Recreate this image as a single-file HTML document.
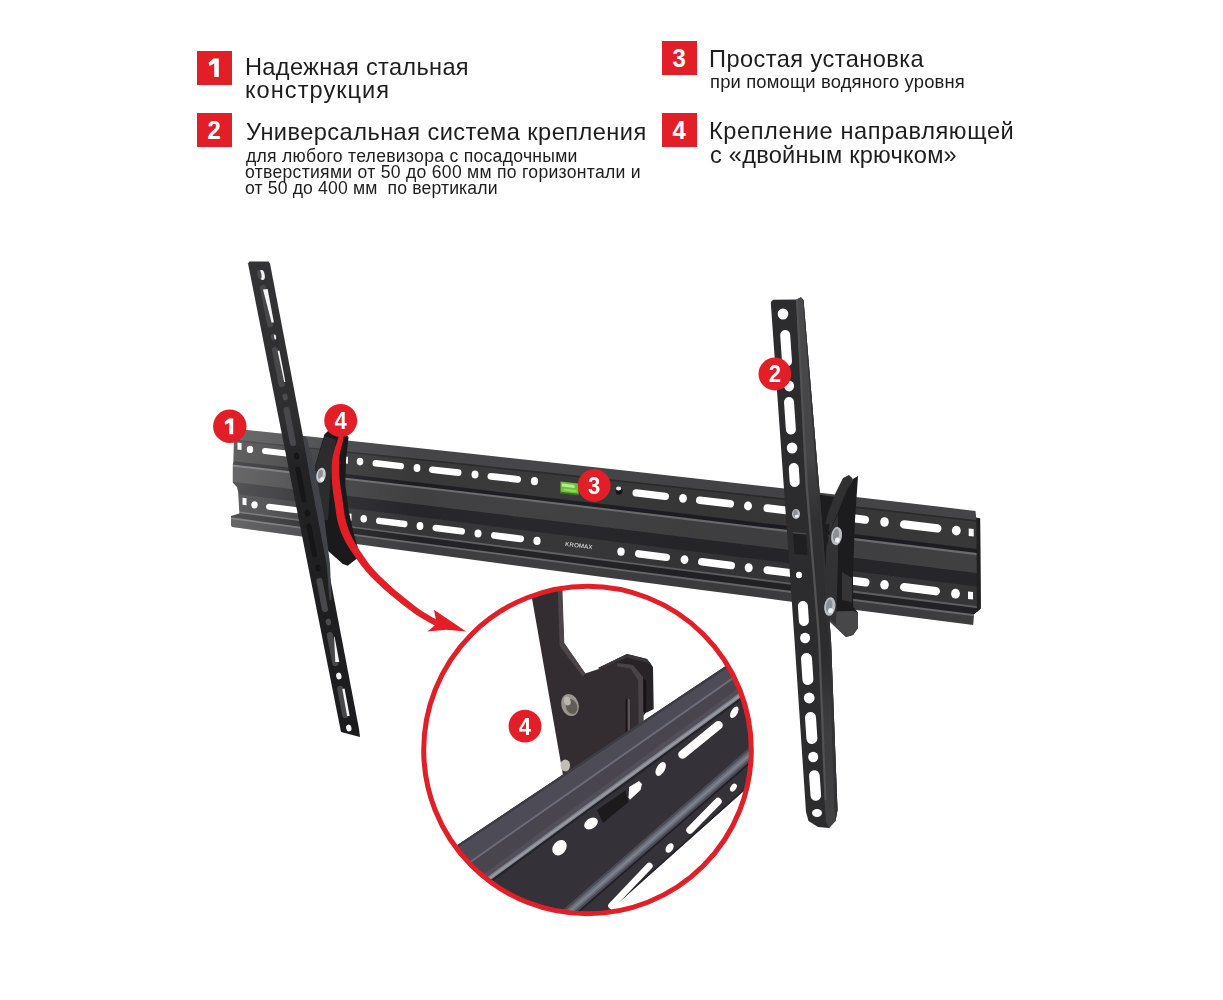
<!DOCTYPE html>
<html><head><meta charset="utf-8"><title>TV mount</title>
<style>
html,body{margin:0;padding:0;background:#fff;}
body{width:1223px;height:1000px;position:relative;overflow:hidden;font-family:"Liberation Sans",sans-serif;color:#1d1d1d;}
.sq{position:absolute;width:34.5px;height:34px;background:#e21f26;color:#fff;font-weight:bold;font-size:26px;line-height:34px;text-align:center;}
.sq span{display:inline-block;transform:scaleX(.92);}
.t{position:absolute;white-space:pre;line-height:1;will-change:transform;}
svg{position:absolute;left:0;top:0;}
</style></head><body>
<div class="sq" style="left:197px;top:50.5px"><svg width="34.5" height="34" style="position:absolute;left:0;top:0"><polygon points="16.6,7.5 21.8,7.5 21.8,26.1 17.2,26.1 17.2,12.5 12.5,14.9 11.6,11.7" fill="#fff"/></svg></div>
<div class="sq" style="left:197px;top:113px"><span>2</span></div>
<div class="sq" style="left:662px;top:41px"><span>3</span></div>
<div class="sq" style="left:662px;top:113px"><span>4</span></div>
<div class="t" style="left:244.9px;top:56px;font-size:23.6px;letter-spacing:.319px">Надежная стальная</div>
<div class="t" style="left:244.9px;top:78.9px;font-size:23.6px;letter-spacing:1.03px">конструкция</div>
<div class="t" style="left:245.9px;top:121.4px;font-size:23.6px;letter-spacing:.45px">Универсальная система крепления</div>
<div class="t" style="left:246px;top:147.8px;font-size:17.6px;letter-spacing:.276px">для любого телевизора с посадочными</div>
<div class="t" style="left:245.3px;top:163.8px;font-size:17.6px;letter-spacing:.277px">отверстиями от 50 до 600 мм по горизонтали и</div>
<div class="t" style="left:245.3px;top:180px;font-size:17.6px;letter-spacing:.15px">от 50 до 400 мм  по вертикали</div>
<div class="t" style="left:709.3px;top:48.4px;font-size:23.6px;letter-spacing:.444px">Простая установка</div>
<div class="t" style="left:710.3px;top:73px;font-size:18.4px;letter-spacing:.168px">при помощи водяного уровня</div>
<div class="t" style="left:709.3px;top:119.5px;font-size:23.6px;letter-spacing:.59px">Крепление направляющей</div>
<div class="t" style="left:710.3px;top:143.9px;font-size:23.6px;letter-spacing:.233px">с «двойным крючком»</div>
<svg width="1223" height="1000" viewBox="0 0 1223 1000">
<defs>
<clipPath id="cc"><circle cx="587.5" cy="750" r="164"/></clipPath>
<clipPath id="railclip"><polygon points="242.0,429.6 300.0,435.6 380.0,444.0 460.0,452.5 540.0,461.2 620.0,470.0 700.0,479.0 780.0,488.1 860.0,497.4 940.0,506.8 975.5,511.0 976.2,517.7 980.0,518.5 980.7,608.5 974.0,614.5 973.2,625.0 940.0,620.8 860.0,610.6 780.0,600.2 700.0,589.8 620.0,579.3 540.0,568.7 460.0,558.0 380.0,547.2 300.0,536.3 232.2,527.0 231.0,525.6 231.0,516.0 239.4,513.6 238.2,492.0 237.0,487.0 232.8,482.5 232.8,464.5 233.4,462.0 234.0,440.0"/></clipPath>
<filter id="soft" x="-5%" y="-5%" width="110%" height="110%"><feGaussianBlur stdDeviation="0.55"/></filter>
<linearGradient id="larm" x1="0" y1="262" x2="0" y2="737" gradientUnits="userSpaceOnUse"><stop offset="0" stop-color="#333335"/><stop offset=".34" stop-color="#2d2d2f"/><stop offset=".43" stop-color="#232325"/><stop offset=".7" stop-color="#1f1f21"/><stop offset="1" stop-color="#1c1c1e"/></linearGradient>
<linearGradient id="rside" x1="0" y1="298" x2="0" y2="828" gradientUnits="userSpaceOnUse"><stop offset="0" stop-color="#4a4a4c"/><stop offset=".3" stop-color="#444446"/><stop offset=".42" stop-color="#303032"/><stop offset=".68" stop-color="#2c2c2e"/><stop offset=".8" stop-color="#3c3c3e"/><stop offset="1" stop-color="#424244"/></linearGradient>
<linearGradient id="railshade" x1="225" y1="0" x2="995" y2="0" gradientUnits="userSpaceOnUse">
<stop offset="0" stop-color="#fff" stop-opacity=".22"/><stop offset=".06" stop-color="#fff" stop-opacity=".16"/><stop offset=".13" stop-color="#fff" stop-opacity=".07"/><stop offset=".25" stop-color="#fff" stop-opacity="0"/><stop offset=".6" stop-color="#000" stop-opacity=".04"/><stop offset="1" stop-color="#000" stop-opacity="0"/>
</linearGradient>
</defs>
<!-- wall rail -->
<g id="rail">
<g clip-path="url(#railclip)">
<g filter="url(#soft)">
<polygon points="220.0,424.4 232.0,425.6 300.0,432.6 380.0,440.9 460.0,449.4 540.0,458.0 620.0,466.8 700.0,475.7 780.0,484.8 860.0,494.0 940.0,503.4 981.0,508.2 995.0,509.9 995.0,631.2 981.0,629.4 940.0,624.2 860.0,614.0 780.0,603.6 700.0,593.1 620.0,582.6 540.0,571.9 460.0,561.2 380.0,550.3 300.0,539.3 232.0,530.0 220.0,528.3" fill="#454547" />
<polygon points="220.0,438.2 232.0,439.4 300.0,446.4 380.0,454.7 460.0,463.1 540.0,471.6 620.0,480.3 700.0,489.0 780.0,497.8 860.0,506.8 940.0,515.9 981.0,520.6 995.0,522.2 995.0,631.2 981.0,629.4 940.0,624.2 860.0,614.0 780.0,603.6 700.0,593.1 620.0,582.6 540.0,571.9 460.0,561.2 380.0,550.3 300.0,539.3 232.0,530.0 220.0,528.3" fill="#29292b" />
<polygon points="220.0,439.6 232.0,440.8 300.0,447.8 380.0,456.2 460.0,464.6 540.0,473.2 620.0,481.8 700.0,490.5 780.0,499.4 860.0,508.4 940.0,517.5 981.0,522.2 995.0,523.8 995.0,631.2 981.0,629.4 940.0,624.2 860.0,614.0 780.0,603.6 700.0,593.1 620.0,582.6 540.0,571.9 460.0,561.2 380.0,550.3 300.0,539.3 232.0,530.0 220.0,528.3" fill="#373739" />
<polygon points="220.0,459.7 232.0,461.1 300.0,468.8 380.0,478.1 460.0,487.3 540.0,496.7 620.0,506.1 700.0,515.6 780.0,525.1 860.0,534.7 940.0,544.4 981.0,549.4 995.0,551.1 995.0,631.2 981.0,629.4 940.0,624.2 860.0,614.0 780.0,603.6 700.0,593.1 620.0,582.6 540.0,571.9 460.0,561.2 380.0,550.3 300.0,539.3 232.0,530.0 220.0,528.3" fill="#1f1f21" />
<polygon points="220.0,463.1 232.0,464.5 300.0,472.4 380.0,481.7 460.0,491.0 540.0,500.5 620.0,509.9 700.0,519.5 780.0,529.1 860.0,538.7 940.0,548.4 981.0,553.4 995.0,555.1 995.0,631.2 981.0,629.4 940.0,624.2 860.0,614.0 780.0,603.6 700.0,593.1 620.0,582.6 540.0,571.9 460.0,561.2 380.0,550.3 300.0,539.3 232.0,530.0 220.0,528.3" fill="#6c6c6e" />
<polygon points="220.0,465.1 232.0,466.5 300.0,474.4 380.0,483.7 460.0,493.1 540.0,502.6 620.0,512.1 700.0,521.7 780.0,531.3 860.0,541.0 940.0,550.7 981.0,555.7 995.0,557.4 995.0,631.2 981.0,629.4 940.0,624.2 860.0,614.0 780.0,603.6 700.0,593.1 620.0,582.6 540.0,571.9 460.0,561.2 380.0,550.3 300.0,539.3 232.0,530.0 220.0,528.3" fill="#414143" />
<polygon points="220.0,480.3 232.0,481.7 300.0,490.0 380.0,499.7 460.0,509.5 540.0,519.3 620.0,529.1 700.0,538.9 780.0,548.7 860.0,558.5 940.0,568.4 981.0,573.4 995.0,575.1 995.0,631.2 981.0,629.4 940.0,624.2 860.0,614.0 780.0,603.6 700.0,593.1 620.0,582.6 540.0,571.9 460.0,561.2 380.0,550.3 300.0,539.3 232.0,530.0 220.0,528.3" fill="#272729" />
<polygon points="220.0,492.0 232.0,493.5 300.0,502.1 380.0,512.1 460.0,522.1 540.0,532.2 620.0,542.2 700.0,552.2 780.0,562.1 860.0,572.1 940.0,582.0 981.0,587.1 995.0,588.9 995.0,631.2 981.0,629.4 940.0,624.2 860.0,614.0 780.0,603.6 700.0,593.1 620.0,582.6 540.0,571.9 460.0,561.2 380.0,550.3 300.0,539.3 232.0,530.0 220.0,528.3" fill="#353537" />
<polygon points="220.0,508.9 232.0,510.5 300.0,519.4 380.0,529.9 460.0,540.3 540.0,550.6 620.0,561.0 700.0,571.2 780.0,581.4 860.0,591.6 940.0,601.6 981.0,606.8 995.0,608.6 995.0,631.2 981.0,629.4 940.0,624.2 860.0,614.0 780.0,603.6 700.0,593.1 620.0,582.6 540.0,571.9 460.0,561.2 380.0,550.3 300.0,539.3 232.0,530.0 220.0,528.3" fill="#606062" />
<polygon points="220.0,510.5 232.0,512.0 300.0,521.0 380.0,531.5 460.0,542.0 540.0,552.4 620.0,562.7 700.0,573.0 780.0,583.2 860.0,593.4 940.0,603.5 981.0,608.6 995.0,610.4 995.0,631.2 981.0,629.4 940.0,624.2 860.0,614.0 780.0,603.6 700.0,593.1 620.0,582.6 540.0,571.9 460.0,561.2 380.0,550.3 300.0,539.3 232.0,530.0 220.0,528.3" fill="#242426" />
<polygon points="220.0,516.0 232.0,517.6 300.0,526.8 380.0,537.4 460.0,548.0 540.0,558.5 620.0,568.9 700.0,579.3 780.0,589.6 860.0,599.8 940.0,610.0 981.0,615.1 995.0,616.9 995.0,631.2 981.0,629.4 940.0,624.2 860.0,614.0 780.0,603.6 700.0,593.1 620.0,582.6 540.0,571.9 460.0,561.2 380.0,550.3 300.0,539.3 232.0,530.0 220.0,528.3" fill="#68686a" />
<polygon points="220.0,517.7 232.0,519.3 300.0,528.5 380.0,539.2 460.0,549.8 540.0,560.3 620.0,570.8 700.0,581.2 780.0,591.5 860.0,601.7 940.0,611.9 981.0,617.1 995.0,618.9 995.0,631.2 981.0,629.4 940.0,624.2 860.0,614.0 780.0,603.6 700.0,593.1 620.0,582.6 540.0,571.9 460.0,561.2 380.0,550.3 300.0,539.3 232.0,530.0 220.0,528.3" fill="#3e3e40" />
</g>
<rect x="225" y="420" width="770" height="220" fill="url(#railshade)"/>
</g>
<polygon points="237.5,442.6 241.5,443.0 241.5,450.0 237.5,449.6" fill="#fff"/>
<ellipse cx="250.0" cy="449.4" rx="3.2" ry="3.6" fill="#fff"/>
<line x1="265.0" y1="451.1" x2="293.0" y2="454.2" stroke="#fff" stroke-width="6.0" stroke-linecap="round"/>
<polygon points="344.0,456.3 348.0,456.8 348.0,463.8 344.0,463.3" fill="#fff"/>
<ellipse cx="360.0" cy="461.6" rx="3.3" ry="3.8" fill="#fff"/>
<line x1="375.7" y1="463.3" x2="400.8" y2="466.1" stroke="#fff" stroke-width="6.4" stroke-linecap="round"/>
<ellipse cx="417.0" cy="468.0" rx="3.4" ry="3.9" fill="#fff"/>
<line x1="432.3" y1="469.7" x2="458.2" y2="472.6" stroke="#fff" stroke-width="6.6" stroke-linecap="round"/>
<ellipse cx="475.0" cy="474.5" rx="3.5" ry="4.0" fill="#fff"/>
<line x1="490.9" y1="476.3" x2="517.6" y2="479.3" stroke="#fff" stroke-width="6.8" stroke-linecap="round"/>
<ellipse cx="534.5" cy="481.2" rx="3.6" ry="4.1" fill="#fff"/>
<ellipse cx="619.0" cy="490.9" rx="3.4" ry="3.6" fill="#141416"/>
<ellipse cx="618.6" cy="488.4" rx="2.6" ry="2.0" fill="#ececec"/>
<line x1="636.2" y1="492.9" x2="665.3" y2="496.3" stroke="#fff" stroke-width="7.4" stroke-linecap="round"/>
<ellipse cx="683.0" cy="498.3" rx="3.9" ry="4.4" fill="#fff"/>
<line x1="699.8" y1="500.3" x2="730.2" y2="503.8" stroke="#fff" stroke-width="7.6" stroke-linecap="round"/>
<ellipse cx="748.0" cy="505.9" rx="4.0" ry="4.5" fill="#fff"/>
<line x1="767.4" y1="508.2" x2="796.1" y2="511.6" stroke="#fff" stroke-width="7.8" stroke-linecap="round"/>
<line x1="849.1" y1="517.8" x2="864.9" y2="519.7" stroke="#fff" stroke-width="8.2" stroke-linecap="round"/>
<ellipse cx="884.5" cy="522.0" rx="4.3" ry="4.8" fill="#fff"/>
<line x1="904.2" y1="524.4" x2="937.3" y2="528.4" stroke="#fff" stroke-width="8.4" stroke-linecap="round"/>
<ellipse cx="956.3" cy="530.6" rx="4.4" ry="4.9" fill="#fff"/>
<polygon points="968.7,528.4 973.7,529.0 973.7,536.5 968.7,535.9" fill="#fff"/>
<polygon points="242.5,497.8 246.5,498.3 246.5,505.3 242.5,504.8" fill="#fff"/>
<ellipse cx="254.5" cy="504.8" rx="3.2" ry="3.6" fill="#fff"/>
<line x1="269.0" y1="506.7" x2="297.0" y2="510.3" stroke="#fff" stroke-width="6.0" stroke-linecap="round"/>
<polygon points="347.5,513.2 351.5,513.7 351.5,520.7 347.5,520.2" fill="#fff"/>
<ellipse cx="363.7" cy="518.8" rx="3.3" ry="3.8" fill="#fff"/>
<line x1="379.2" y1="520.8" x2="404.3" y2="524.0" stroke="#fff" stroke-width="6.4" stroke-linecap="round"/>
<ellipse cx="420.0" cy="526.0" rx="3.4" ry="3.9" fill="#fff"/>
<line x1="435.8" y1="528.0" x2="461.7" y2="531.3" stroke="#fff" stroke-width="6.6" stroke-linecap="round"/>
<ellipse cx="478.0" cy="533.4" rx="3.5" ry="4.0" fill="#fff"/>
<line x1="494.4" y1="535.5" x2="520.6" y2="538.8" stroke="#fff" stroke-width="6.8" stroke-linecap="round"/>
<ellipse cx="537.0" cy="540.9" rx="3.6" ry="4.1" fill="#fff"/>
<ellipse cx="621.0" cy="551.6" rx="3.7" ry="4.2" fill="#fff"/>
<line x1="638.7" y1="553.8" x2="666.3" y2="557.3" stroke="#fff" stroke-width="7.4" stroke-linecap="round"/>
<ellipse cx="684.5" cy="559.6" rx="3.9" ry="4.4" fill="#fff"/>
<line x1="701.8" y1="561.8" x2="731.2" y2="565.5" stroke="#fff" stroke-width="7.6" stroke-linecap="round"/>
<ellipse cx="748.7" cy="567.7" rx="4.0" ry="4.5" fill="#fff"/>
<line x1="767.4" y1="570.1" x2="796.1" y2="573.7" stroke="#fff" stroke-width="7.8" stroke-linecap="round"/>
<line x1="849.1" y1="580.3" x2="865.4" y2="582.4" stroke="#fff" stroke-width="8.2" stroke-linecap="round"/>
<ellipse cx="884.5" cy="584.8" rx="4.3" ry="4.8" fill="#fff"/>
<line x1="904.2" y1="587.2" x2="935.8" y2="591.2" stroke="#fff" stroke-width="8.4" stroke-linecap="round"/>
<ellipse cx="955.5" cy="593.7" rx="4.4" ry="4.9" fill="#fff"/>
<polygon points="968.0,591.5 973.0,592.1 973.0,599.6 968.0,599.0" fill="#fff"/>
<polygon points="560.5,481.6 578.5,483.5 578.5,494.9 560.5,493.0" fill="#6cc23a" />
<polygon points="562.0,483.6 574.5,485.1 574.5,488.1 562.0,486.6" fill="#b4ee8c" />
<polygon points="563.5,488.6 576.5,490.3 576.5,492.3 563.5,490.6" fill="#8fdc5c" />
<polygon points="560.5,491.8 578.5,493.7 578.5,495.5 560.5,493.6" fill="#3a6f26" />
<text x="565" y="546.0" font-size="6" fill="#f4f4f4" font-family="Liberation Sans" transform="rotate(6.5 565 546.0)" letter-spacing="0.3">KROMAX</text>
</g>
<polygon points="324.4,434.4 329.0,430.0 344.0,431.5 348.5,437.0 346.0,460.0 345.3,484.0 348.5,509.7 353.3,532.0 358.0,548.0 357.0,558.5 347.7,565.7 342.9,564.0 328.4,551.3 322.0,532.0 312.0,480.0 315.6,464.0" fill="#1a1a1c" />
<polygon points="325.0,436.0 336.0,440.0 331.0,475.0 328.0,520.0 320.0,520.0 313.0,478.0 316.5,462.0" fill="#2c2c2f" />
<polygon points="248.0,263.5 249.5,261.5 268.5,261.5 270.0,263.5 359.0,729.0 360.0,737.0 341.0,732.0" fill="url(#larm)" />
<polygon points="303.0,436.0 307.0,438.0 316.0,473.0 324.0,516.0 330.0,564.0 331.5,600.0 329.5,600.0 326.6,564.0 317.4,516.0 309.2,473.0" fill="#40444a" />
<ellipse cx="262.0" cy="275.0" rx="2.7" ry="5.0" fill="#f4f4f4" transform="rotate(-11.0 262.0 275.0)"/>
<ellipse cx="259.4" cy="274.5" rx="2.0" ry="4.6" fill="#4a4a4e" transform="rotate(-11.0 259.4 274.5)"/>
<line x1="263.1" y1="288.0" x2="270.0" y2="324.0" stroke="#48484c" stroke-width="6.2" stroke-linecap="round"/>
<ellipse cx="273.5" cy="337.0" rx="2.7" ry="3.4" fill="#4c4c50" transform="rotate(-11.0 273.5 337.0)"/>
<line x1="275.0" y1="350.0" x2="281.6" y2="384.0" stroke="#48484c" stroke-width="6.2" stroke-linecap="round"/>
<ellipse cx="285.1" cy="397.0" rx="2.7" ry="3.4" fill="#4c4c50" transform="rotate(-11.0 285.1 397.0)"/>
<line x1="286.6" y1="410.0" x2="292.9" y2="443.0" stroke="#48484c" stroke-width="6.2" stroke-linecap="round"/>
<ellipse cx="296.4" cy="456.0" rx="2.7" ry="3.4" fill="#151517" transform="rotate(-11.0 296.4 456.0)"/>
<line x1="297.9" y1="469.0" x2="303.9" y2="500.0" stroke="#161618" stroke-width="5.0" stroke-linecap="round"/>
<ellipse cx="307.4" cy="513.0" rx="2.7" ry="3.4" fill="#151517" transform="rotate(-11.0 307.4 513.0)"/>
<line x1="308.9" y1="526.0" x2="314.5" y2="555.0" stroke="#161618" stroke-width="5.0" stroke-linecap="round"/>
<ellipse cx="318.0" cy="568.0" rx="2.7" ry="3.4" fill="#151517" transform="rotate(-11.0 318.0 568.0)"/>
<line x1="319.5" y1="581.0" x2="324.9" y2="609.0" stroke="#48484c" stroke-width="6.2" stroke-linecap="round"/>
<ellipse cx="328.4" cy="622.0" rx="2.7" ry="3.4" fill="#4c4c50" transform="rotate(-11.0 328.4 622.0)"/>
<line x1="329.9" y1="635.0" x2="335.3" y2="663.0" stroke="#48484c" stroke-width="6.2" stroke-linecap="round"/>
<ellipse cx="338.8" cy="676.0" rx="2.7" ry="3.4" fill="#f4f4f4" transform="rotate(-11.0 338.8 676.0)"/>
<line x1="340.3" y1="689.0" x2="345.3" y2="715.0" stroke="#48484c" stroke-width="6.2" stroke-linecap="round"/>
<ellipse cx="348.8" cy="728.0" rx="2.7" ry="3.4" fill="#f4f4f4" transform="rotate(-11.0 348.8 728.0)"/>
<polygon points="263.0,289.5 267.6,289.0 273.9,322.5 271.6,322.5" fill="#f6f6f6" />
<polygon points="277.6,351.0 279.4,350.5 285.4,382.0 284.2,382.0" fill="#f6f6f6" />
<ellipse cx="275.1" cy="337.0" rx="1.0" ry="2.6" fill="#f0f0f0" transform="rotate(-11.0 275.1 337.0)"/>
<polygon points="334.1,637.0 334.5,636.5 339.3,662.0 335.3,662.0" fill="#f6f6f6" />
<polygon points="342.3,689.0 344.5,688.5 349.7,716.0 347.1,716.0" fill="#f6f6f6" />
<ellipse cx="321.0" cy="475.3" rx="4.7" ry="7.6" fill="#c9cccf" transform="rotate(10.0 321.0 475.3)"/>
<ellipse cx="320.5" cy="474.3" rx="2.3" ry="4.6" fill="#8d9094" transform="rotate(10.0 320.5 474.3)"/>
<ellipse cx="322.0" cy="479.3" rx="2.0" ry="2.2" fill="#eef0f2"/>
<polygon points="814.0,494.0 840.0,497.5 830.0,520.0 826.0,560.0 826.0,605.0 820.0,604.0 818.0,560.0" fill="#1d1d1f" />
<polygon points="976.3,517.6 980.2,518.6 980.8,608.4 976.9,612.0 976.7,560.0" fill="#202022" />
<polygon points="849.0,475.0 843.0,478.0 836.0,492.0 829.0,510.0 825.0,524.0 835.0,524.0 846.0,494.0 853.0,479.0" fill="#303033" />
<polygon points="858.0,476.0 853.0,479.0 846.0,492.0 838.0,512.0 831.0,528.0 826.0,545.0 824.0,575.0 824.0,603.0 826.0,618.0 846.0,637.0 853.0,635.0 858.0,628.0 858.0,612.5 853.2,607.0 853.0,575.0 855.0,520.0" fill="#1c1c1e" />
<polygon points="826.5,611.5 853.5,611.0 858.0,612.5 858.0,628.0 853.0,635.0 846.0,637.0 826.0,618.0" fill="#47474a" />
<polygon points="838.0,514.0 831.0,529.0 826.5,546.0 825.0,575.0 825.0,603.0 827.0,617.0 836.0,625.0 838.0,560.0" fill="#323235" />
<polygon points="842.0,572.0 852.0,578.0 852.0,602.0 842.0,600.0" fill="#343437" />
<polygon points="770.8,303.0 771.5,301.0 773.5,299.8 796.5,299.6 801.0,297.3 803.5,300.0 819.0,485.0 831.0,640.0 837.5,810.0 835.5,821.0 829.0,828.0 818.0,827.0 808.5,821.0 806.0,812.0 794.5,640.0 783.7,485.0" fill="#2c2c2f" />
<polygon points="796.0,299.8 801.0,297.3 803.5,300.0 819.0,485.0 831.0,640.0 837.5,810.0 835.5,821.0 829.0,828.0 826.0,822.0 824.5,800.0 818.0,640.0 805.5,485.0" fill="url(#rside)" />
<polygon points="796.0,299.8 798.0,299.4 807.8,485.0 820.3,640.0 826.5,800.0 824.5,800.0 818.0,640.0 805.5,485.0" fill="#525254" />
<polygon points="802.7,300.0 803.5,300.0 819.0,485.0 831.0,640.0 837.5,810.0 835.5,821.0 834.5,810.0 829.0,640.0 817.2,485.0" fill="#333335" />
<ellipse cx="783.0" cy="314.0" rx="5.3" ry="5.6" fill="#fff"/>
<line x1="785.2" y1="335.0" x2="787.0" y2="361.5" stroke="#fff" stroke-width="10.0" stroke-linecap="round"/>
<ellipse cx="789.1" cy="386.0" rx="5.0" ry="5.4" fill="#fff"/>
<line x1="789.0" y1="402.0" x2="790.9" y2="429.5" stroke="#fff" stroke-width="10.0" stroke-linecap="round"/>
<ellipse cx="792.1" cy="448.0" rx="5.3" ry="5.5" fill="#fff"/>
<line x1="793.8" y1="468.0" x2="794.7" y2="482.0" stroke="#fff" stroke-width="10.0" stroke-linecap="round"/>
<polygon points="793.0,532.0 806.0,533.0 807.5,555.0 794.5,554.0" fill="#1f1f21" />
<polygon points="793.0,532.0 806.0,533.0 806.1,534.6 793.1,533.6" fill="#4a4a4d" />
<ellipse cx="799.0" cy="575.0" rx="3.0" ry="3.2" fill="#fff"/>
<line x1="802.9" y1="606.0" x2="803.9" y2="621.0" stroke="#fff" stroke-width="10.0" stroke-linecap="round"/>
<ellipse cx="805.1" cy="638.0" rx="5.0" ry="5.2" fill="#fff"/>
<line x1="806.5" y1="658.5" x2="807.9" y2="679.5" stroke="#fff" stroke-width="11.0" stroke-linecap="round"/>
<ellipse cx="809.2" cy="698.0" rx="5.4" ry="5.4" fill="#fff"/>
<line x1="810.5" y1="717.5" x2="811.9" y2="738.5" stroke="#fff" stroke-width="11.0" stroke-linecap="round"/>
<ellipse cx="813.2" cy="757.0" rx="5.0" ry="5.2" fill="#fff"/>
<line x1="814.4" y1="775.5" x2="815.8" y2="795.5" stroke="#fff" stroke-width="10.6" stroke-linecap="round"/>
<ellipse cx="817.0" cy="813.0" rx="5.0" ry="4.0" fill="#fff"/>
<ellipse cx="796.0" cy="514.0" rx="4.0" ry="5.0" fill="#b9bdc2"/><ellipse cx="795.4" cy="513.2" rx="2.2" ry="3.5" fill="#8b9096"/><ellipse cx="796.8" cy="516.2" rx="1.8" ry="1.4" fill="#eef1f4"/>
<ellipse cx="836.6" cy="536.0" rx="5.4" ry="9.2" fill="#b9bdc2" transform="rotate(8.0 836.6 536.0)"/><ellipse cx="836.0" cy="535.2" rx="3.0" ry="6.4" fill="#8b9096" transform="rotate(8.0 836.0 535.2)"/><ellipse cx="837.4" cy="540.1" rx="2.4" ry="2.6" fill="#eef1f4" transform="rotate(8.0 837.4 540.1)"/>
<ellipse cx="829.8" cy="606.5" rx="5.6" ry="9.4" fill="#b9bdc2" transform="rotate(8.0 829.8 606.5)"/><ellipse cx="829.2" cy="605.7" rx="3.1" ry="6.6" fill="#8b9096" transform="rotate(8.0 829.2 605.7)"/><ellipse cx="830.6" cy="610.7" rx="2.5" ry="2.6" fill="#eef1f4" transform="rotate(8.0 830.6 610.7)"/>
<polygon points="338.6,437.3 337.9,439.1 337.0,441.7 336.0,444.8 334.9,448.1 334.0,451.4 333.2,454.4 332.6,457.2 332.2,459.8 332.0,462.4 331.8,465.0 331.7,467.5 331.7,470.0 331.6,472.6 331.7,475.1 331.7,477.7 331.9,480.3 332.0,482.8 332.2,485.4 332.5,487.9 332.8,490.4 333.1,492.8 333.5,495.3 333.9,497.9 334.3,500.6 334.8,503.6 335.2,507.0 335.7,510.5 336.2,514.1 336.8,517.6 337.5,520.9 338.3,524.0 339.2,526.9 340.1,529.7 341.1,532.4 342.2,535.0 343.4,537.6 344.6,540.1 345.8,542.4 347.1,544.7 348.5,547.0 350.1,549.4 351.8,552.1 353.9,555.1 356.1,558.3 358.5,561.7 361.1,565.3 363.9,568.8 366.8,572.3 369.9,575.7 373.2,579.1 376.7,582.5 380.3,585.8 384.0,589.2 387.8,592.5 391.9,596.0 396.5,599.7 401.1,603.4 405.6,606.9 409.7,610.0 413.1,612.5 415.7,614.4 417.7,615.8 419.2,616.8 420.6,617.6 421.9,618.3 423.4,619.2 425.3,620.3 427.5,621.5 429.6,622.7 431.6,623.8 433.3,624.7 434.5,625.4 437.5,620.2 436.3,619.5 434.6,618.5 432.6,617.4 430.5,616.2 428.5,615.0 426.6,613.8 425.0,612.9 423.7,612.1 422.5,611.4 421.2,610.6 419.4,609.3 416.9,607.5 413.6,604.9 409.6,601.8 405.2,598.3 400.6,594.6 396.2,590.9 392.2,587.5 388.5,584.1 384.9,580.8 381.5,577.5 378.2,574.2 375.1,570.9 372.2,567.7 369.5,564.4 366.9,560.9 364.5,557.5 362.2,554.1 360.1,550.9 358.2,547.9 356.5,545.3 355.0,542.9 353.8,540.8 352.7,538.7 351.7,536.6 350.6,534.4 349.6,531.9 348.6,529.5 347.8,527.1 346.9,524.5 346.2,521.9 345.5,519.1 344.8,516.1 344.3,512.8 343.8,509.4 343.3,505.9 342.9,502.5 342.5,499.4 342.0,496.6 341.6,494.0 341.2,491.6 340.8,489.2 340.5,486.9 340.2,484.6 339.9,482.2 339.7,479.7 339.5,477.3 339.3,474.9 339.2,472.4 339.1,470.0 339.1,467.6 339.1,465.2 339.2,462.8 339.2,460.5 339.4,458.1 339.6,455.6 340.1,452.8 340.7,449.6 341.5,446.4 342.3,443.3 343.0,440.6 343.4,438.7" fill="#e21f26" /><ellipse cx="341.0" cy="438.0" rx="2.5" ry="2.5" fill="#e21f26"/><polygon points="466.2,631.5 433.9,609.8 436.2,621.0 434.6,625.4 427.4,631.5 446.0,629.7" fill="#e21f26" />
<circle cx="587.5" cy="750" r="164" fill="#fff"/>
<g clip-path="url(#cc)">
<polygon points="598.0,668.0 627.0,654.0 647.0,659.0 653.0,667.0 653.7,709.0 647.0,712.5 640.0,712.0 640.0,680.0" fill="#272326" />
<polygon points="598.0,668.0 627.0,654.0 647.0,659.0 652.0,665.5 648.0,663.0 627.0,657.5 601.0,669.5" fill="#3b3639" />
<polygon points="527.9,575.0 561.0,575.0 562.0,595.0 564.0,643.0 585.0,673.5 617.0,663.0 633.0,665.0 643.0,677.0 643.5,735.0 600.0,772.0 566.5,795.0" fill="#332d31" />
<polygon points="557.3,575.0 562.3,575.0 562.6,595.0 564.3,643.0 585.3,673.3 583.0,676.8 559.6,646.0" fill="#4b4549" />
<polygon points="633.0,665.0 643.0,677.0 643.5,722.0 638.6,726.0 638.2,680.5 630.5,668.5 617.0,666.2 617.0,663.0" fill="#494347" />
<polygon points="643.5,679.0 646.2,681.0 646.2,712.0 643.5,716.0" fill="#151214" />
<polygon points="625.6,700.0 627.6,698.0 627.8,745.0 625.6,745.0" fill="#18141a" />
<polygon points="627.6,698.0 630.0,700.0 630.0,745.0 627.8,745.0" fill="#5a5458" />
<ellipse cx="570.0" cy="705.0" rx="8.6" ry="11.2" fill="#97958d" transform="rotate(-18.0 570.0 705.0)"/><ellipse cx="571.5" cy="706.5" rx="5.6" ry="7.6" fill="#5f5c58" transform="rotate(-18.0 571.5 706.5)"/><ellipse cx="567.3" cy="701.0" rx="3.2" ry="4.6" fill="#b9b7ae" transform="rotate(-18.0 567.3 701.0)"/>
<ellipse cx="565.3" cy="765.5" rx="4.8" ry="6.0" fill="#bfbdb4"/>
<polygon points="415.0,873.4 765.0,639.9 765.0,771.8 415.0,1084.3" fill="#353138" />
<polygon points="415.0,873.4 765.0,639.9 765.0,677.5 415.0,933.0" fill="#4d4b56" />
<polygon points="415.0,873.4 765.0,639.9 765.0,642.5 415.0,876.0" fill="#3d3b45" />
<polygon points="415.0,899.5 765.0,654.5 765.0,657.1 415.0,902.1" fill="#6b6b7a" />
<polygon points="415.0,902.1 765.0,657.1 765.0,677.5 415.0,933.0" fill="#48454f" />
<polygon points="415.0,924.0 765.0,668.5 765.0,677.5 415.0,933.0" fill="#524f5a" />
<polygon points="415.0,929.8 765.0,674.2 765.0,679.9 415.0,935.4" fill="#7f818a" />
<polygon points="415.0,931.6 765.0,676.1 765.0,678.2 415.0,933.8" fill="#9a9ca4" />
<polygon points="415.0,935.4 765.0,679.9 765.0,682.5 415.0,938.0" fill="#25232a" />
<polygon points="415.0,1038.5 765.0,734.0 765.0,748.5 415.0,1053.0" fill="#4c4c58" />
<polygon points="415.0,1041.5 765.0,737.0 765.0,745.5 415.0,1050.0" fill="#686b77" />
<polygon points="415.0,1044.2 765.0,739.7 765.0,743.1 415.0,1047.6" fill="#7c808b" />
<polygon points="415.0,1053.0 765.0,748.5 765.0,751.0 415.0,1055.5" fill="#221f26" />
<polygon points="415.0,1055.5 765.0,751.0 765.0,771.8 415.0,1084.3" fill="#363239" />
<polygon points="415.0,1082.3 765.0,769.8 765.0,771.8 415.0,1084.3" fill="#26232a" />
<ellipse cx="559.5" cy="847.7" rx="6.4" ry="8.4" fill="#fff" transform="rotate(38.0 559.5 847.7)"/>
<polygon points="597.0,810.0 625.5,790.5 628.5,802.0 603.0,823.0" fill="#1d1a1e" />
<ellipse cx="591.0" cy="823.5" rx="7.5" ry="5.2" fill="#fff" transform="rotate(-35.0 591.0 823.5)"/>
<polygon points="629.2,787.0 639.0,781.0 642.0,784.0 640.5,790.0 630.0,799.7 628.5,797.5" fill="#fff" />
<ellipse cx="660.7" cy="769.0" rx="4.2" ry="7.6" fill="#fff" transform="rotate(30.0 660.7 769.0)"/>
<line x1="682.5" y1="754.5" x2="718.5" y2="725.2" stroke="#fff" stroke-width="8.6" stroke-linecap="round"/>
<ellipse cx="734.3" cy="712.3" rx="3.3" ry="6.3" fill="#fff" transform="rotate(30.0 734.3 712.3)"/>
<line x1="611.5" y1="905.8" x2="649.3" y2="866.0" stroke="#fff" stroke-width="6.7" stroke-linecap="round"/>
<ellipse cx="669.6" cy="848.0" rx="3.4" ry="5.2" fill="#fff" transform="rotate(35.0 669.6 848.0)"/>
<line x1="690.0" y1="830.0" x2="718.0" y2="801.5" stroke="#fff" stroke-width="7.4" stroke-linecap="round"/>
<ellipse cx="733.4" cy="787.7" rx="2.8" ry="4.4" fill="#fff" transform="rotate(35.0 733.4 787.7)"/>
</g>
<circle cx="587.5" cy="750" r="163.8" fill="none" stroke="#e21f26" stroke-width="5"/>
<circle cx="229.8" cy="426.3" r="16.7" fill="#e21f26"/><polygon points="228.82,418.50 233.21,418.50 233.21,434.20 229.33,434.20 229.33,422.72 225.36,424.75 224.60,422.05" fill="#fff"/>
<circle cx="774.9" cy="374.0" r="16.4" fill="#e21f26"/><text x="0" y="0" font-size="23.5" font-weight="bold" fill="#fff" text-anchor="middle" font-family="Liberation Sans" transform="translate(774.9 382.4) scale(.94 1)">2</text>
<circle cx="594.2" cy="485.5" r="16.4" fill="#e21f26"/><text x="0" y="0" font-size="23.5" font-weight="bold" fill="#fff" text-anchor="middle" font-family="Liberation Sans" transform="translate(594.2 493.9) scale(.94 1)">3</text>
<circle cx="340.7" cy="420.5" r="16.5" fill="#e21f26"/><text x="0" y="0" font-size="23.5" font-weight="bold" fill="#fff" text-anchor="middle" font-family="Liberation Sans" transform="translate(340.7 428.9) scale(.94 1)">4</text>
<circle cx="525.0" cy="726.2" r="16.4" fill="#e21f26"/><text x="0" y="0" font-size="23.5" font-weight="bold" fill="#fff" text-anchor="middle" font-family="Liberation Sans" transform="translate(525.0 734.6) scale(.94 1)">4</text>
</svg>
</body></html>
